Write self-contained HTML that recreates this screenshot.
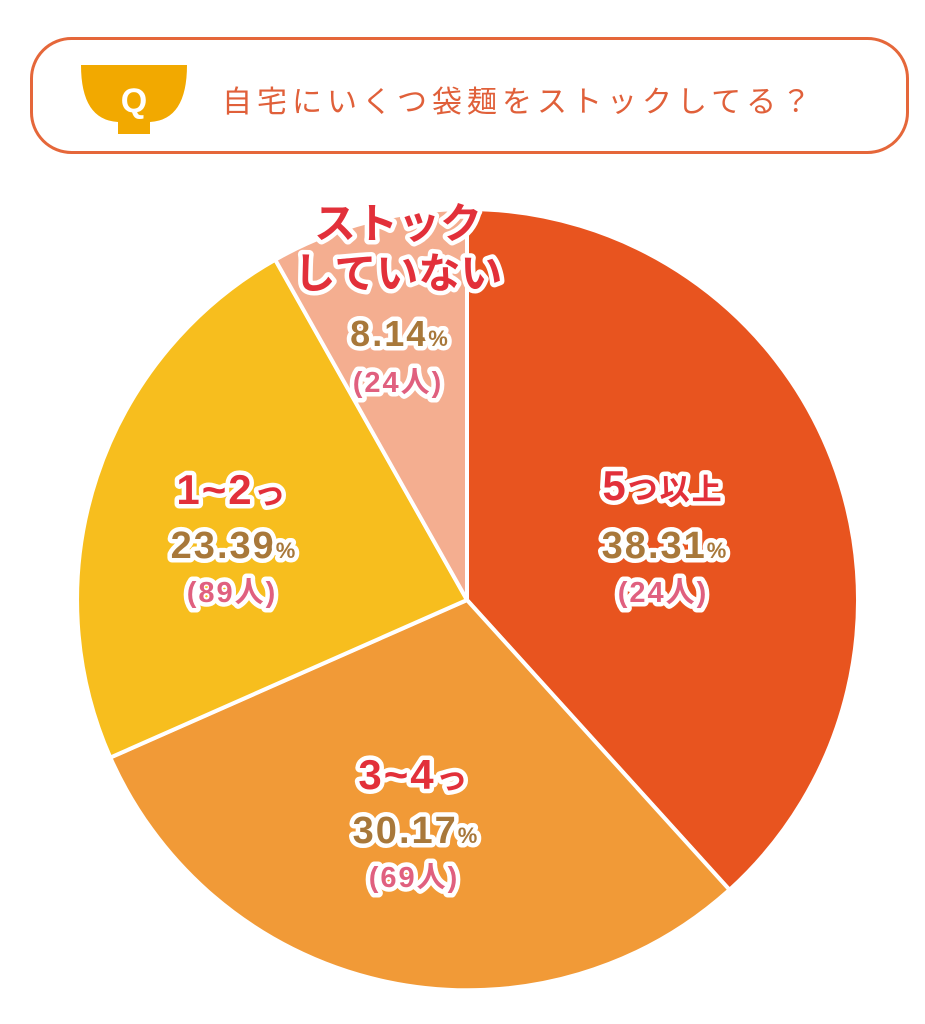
<!DOCTYPE html>
<html><head><meta charset="utf-8"><style>
html,body{margin:0;padding:0;background:#fff;width:925px;height:1024px;overflow:hidden}
svg text{font-family:"Liberation Sans","Noto Sans CJK JP",sans-serif;font-weight:bold;text-anchor:middle;paint-order:stroke;stroke:#fff;stroke-linejoin:round}
.n{letter-spacing:2px}
</style></head><body>
<svg width="925" height="1024" viewBox="0 0 925 1024" xmlns="http://www.w3.org/2000/svg">
<rect x="31.5" y="38.5" width="876" height="114" rx="40" fill="#fff" stroke="#e5673a" stroke-width="3"/>
<path d="M81 65 H187 Q187 120 150 122 V134 H118 V122 Q81 120 81 65 Z" fill="#f2a900"/>
<text x="134" y="112" font-size="34" fill="#fff" style="stroke:none">Q</text>
<text x="222" y="112" font-size="30" fill="#e0603a" style="stroke:none;text-anchor:start;font-weight:normal;letter-spacing:5px">自宅にいくつ袋麺をストックしてる？</text>
<g stroke="#fff" stroke-width="4" stroke-linejoin="round">
<path d="M467 600 L467 209 A391 391 0 0 1 729.5 889.8 Z" fill="#e8541f"/>
<path d="M467 600 L729.5 889.8 A391 391 0 0 1 110.3 757.6 Z" fill="#f19a37"/>
<path d="M467 600 L110.3 757.6 A391 391 0 0 1 275.2 259.7 Z" fill="#f7be1e"/>
<path d="M467 600 L275.2 259.7 A391 391 0 0 1 467 209 Z" fill="#f4ae90"/>
</g>
<g stroke-width="9">
<text x="663" y="500" font-size="42" fill="#e2303a" class="n">5<tspan font-size="30">つ以上</tspan></text>
<text x="665" y="558" font-size="38" fill="#a8783a" class="n">38.31<tspan font-size="22">%</tspan></text>
<text x="663" y="602" font-size="29" fill="#e0607f" class="n">(24人)</text>
<text x="232" y="504" font-size="42" fill="#e2303a" class="n">1~2<tspan font-size="32">っ</tspan></text>
<text x="234" y="558" font-size="38" fill="#a8783a" class="n">23.39<tspan font-size="22">%</tspan></text>
<text x="232" y="602" font-size="29" fill="#e0607f" class="n">(89人)</text>
<text x="414" y="789" font-size="42" fill="#e2303a" class="n">3~4<tspan font-size="32">っ</tspan></text>
<text x="416" y="843" font-size="38" fill="#a8783a" class="n">30.17<tspan font-size="22">%</tspan></text>
<text x="414" y="887" font-size="29" fill="#e0607f" class="n">(69人)</text>
<text x="398" y="238" font-size="42" fill="#e2303a">ストック</text>
<text x="398" y="288" font-size="42" fill="#e2303a">していない</text>
<text x="400" y="346" font-size="36" fill="#a8783a" class="n">8.14<tspan font-size="22">%</tspan></text>
<text x="398" y="392" font-size="29" fill="#e0607f" class="n">(24人)</text>
</g>
</svg>
</body></html>
